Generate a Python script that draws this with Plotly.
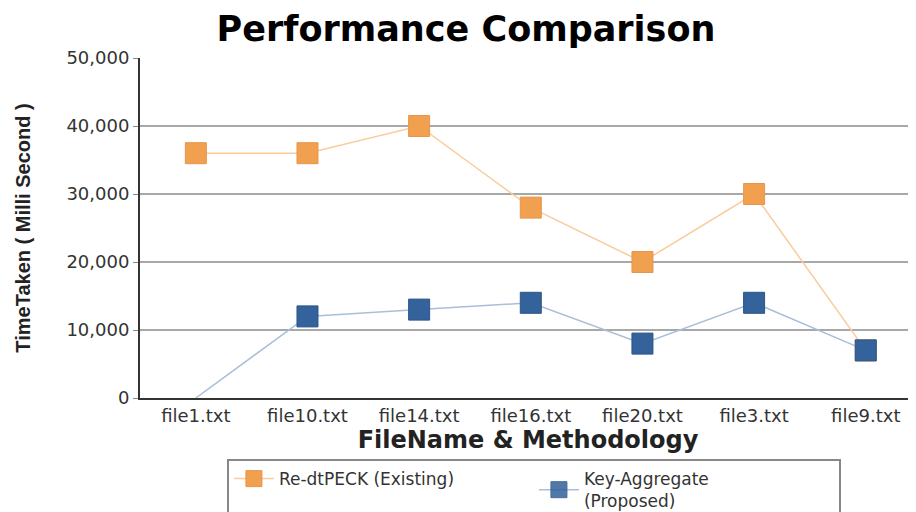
import plotly.graph_objects as go

files = ["file1.txt", "file10.txt", "file14.txt", "file16.txt", "file20.txt", "file3.txt", "file9.txt"]
existing = [36000, 36000, 40000, 28000, 20000, 30000, 7000]
proposed = [0, 12000, 13000, 14000, 8000, 14000, 7000]
y_ticks = [0, 10000, 20000, 30000, 40000, 50000]
y_tick_labels = ["0", "10,000", "20,000", "30,000", "40,000", "50,000"]

WIDE = "DejaVu Sans, Verdana, sans-serif"

fig = go.Figure()
fig.add_trace(go.Scatter(
    x=files, y=existing, name="Re-dtPECK (Existing)", mode="lines+markers",
    line=dict(color="#F9CC9A", width=1.5),
    marker=dict(symbol="square", size=21, color="#F0A04E", line=dict(color="#E8954A", width=1)),
))
fig.add_trace(go.Scatter(
    x=files, y=proposed, name="Key-Aggregate<br>(Proposed)", mode="lines+markers",
    line=dict(color="#A9BFD8", width=1.5),
    marker=dict(symbol="square", size=21, color="#34629A",
                opacity=[0, 1, 1, 1, 1, 1, 1], line=dict(color="#2B5589", width=1)),
))

fig.update_layout(
    width=916, height=512,
    margin=dict(l=132, r=8, t=50, b=122, autoexpand=False),
    paper_bgcolor="white", plot_bgcolor="white",
    title=dict(text="<b>Performance Comparison</b>", x=0.50, xanchor="center", y=0.959, yanchor="middle",
               font=dict(family=WIDE, size=35, color="black")),
    font=dict(family=WIDE, color="#333333"),
    xaxis=dict(
        type="category", range=[-0.5, 6.45], automargin=False,
        showline=True, linecolor="#333333", linewidth=2, mirror=False,
        showgrid=False, ticks="", tickfont=dict(size=18, color="#333333"),
        title=dict(text="<b>FileName & Methodology</b>", font=dict(family=WIDE, size=24, color="#222222"), standoff=2),
    ),
    yaxis=dict(
        range=[0, 50000], tickvals=y_ticks, ticktext=y_tick_labels, automargin=False,
        showline=True, linecolor="#333333", linewidth=2,
        showgrid=True, gridcolor="#A8A8A8", gridwidth=2,
        ticks="outside", ticklen=5, tickcolor="#888888",
        tickfont=dict(size=18, color="#333333"),
        title=dict(text="<b>TimeTaken ( Milli Second )</b>",
                   font=dict(family="Liberation Sans Narrow, Arial Narrow, Liberation Sans, Arial", size=20, color="#222222"),
                   standoff=30),
        zeroline=False,
    ),
    legend=dict(
        orientation="h", xref="container", yref="container",
        x=0.239, y=0.119, xanchor="left", yanchor="top",
        bordercolor="#888888", borderwidth=2, bgcolor="white",
        font=dict(family=WIDE, size=17, color="#333333"), itemwidth=40,
        entrywidth=250, valign="middle",
    ),
    showlegend=True,
)

fig.write_html("out.html")
